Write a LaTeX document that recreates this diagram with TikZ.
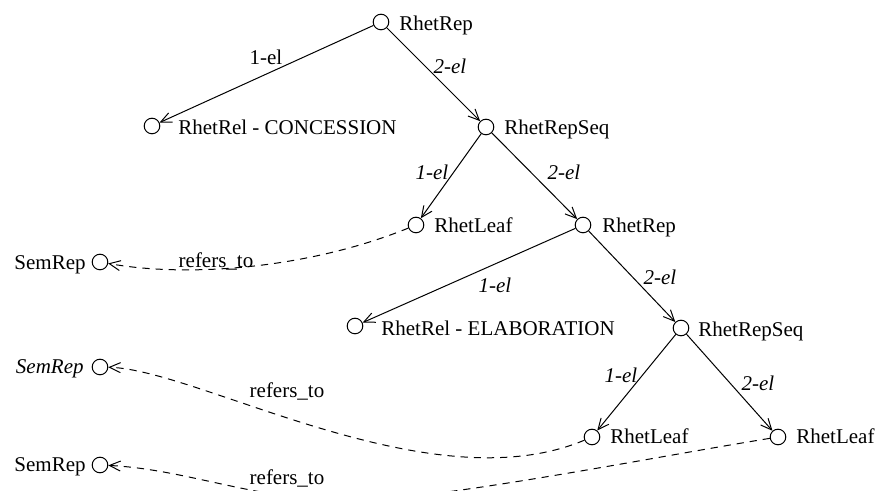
\documentclass[tikz,border=0pt]{standalone}
\usepackage{fontspec}
\setmainfont{Liberation Serif}
\usetikzlibrary{arrows.meta}
\tikzset{
  px/.style={x=0.5pt,y=-0.5pt},
  knot/.style={circle,draw,line width=0.5pt,minimum size=7.8pt,inner sep=0pt},
  tname/.style={font=\fontsize{10.5}{12}\selectfont,inner sep=0pt,anchor=base west},
  tlname/.style={tname,anchor=base east},
  elbl/.style={font=\fontsize{10.5}{12}\selectfont\itshape,inner sep=0pt,anchor=base},
  elblup/.style={elbl,font=\fontsize{10.5}{12}\selectfont},
  elink/.style={line width=0.5pt,-{Straight Barb[length=5.5pt,width=5pt,line width=0.5pt]}},
  reflink/.style={line width=0.5pt,dash pattern=on 3.6pt off 3pt,
    -{Straight Barb[length=5.5pt,width=5pt,line width=0.5pt]}},
}
\begin{document}
\begin{tikzpicture}[px]
\useasboundingbox (0,0) rectangle (875,491);

% tree nodes
\node[knot] (root)  at (381,22)  {};
\node[knot] (conc)  at (152,126) {};
\node[knot] (seqa)  at (486,127) {};
\node[knot] (leafa) at (416,225) {};
\node[knot] (repb)  at (583,225) {};
\node[knot] (elab)  at (355,326) {};
\node[knot] (seqb)  at (681,328) {};
\node[knot] (leafb) at (592,437) {};
\node[knot] (leafc) at (778,437) {};
% semantic representations
\node[knot] (sema) at (100,262) {};
\node[knot] (semb) at (100,367) {};
\node[knot] (semc) at (100,465) {};

% names
\node[tname] (root-t)  at (399,31)  {RhetRep};
\node[tname] (conc-t)  at (178,135) {RhetRel - CONCESSION};
\node[tname] (seqa-t)  at (504,135) {RhetRepSeq};
\node[tname] (leafa-t) at (434,233) {RhetLeaf};
\node[tname] (repb-t)  at (602,233) {RhetRep};
\node[tname] (elab-t)  at (381,336) {RhetRel - ELABORATION};
\node[tname] (seqb-t)  at (698,337) {RhetRepSeq};
\node[tname] (leafb-t) at (610,444) {RhetLeaf};
\node[tname] (leafc-t) at (796,444) {RhetLeaf};
\node[tlname] (sema-t) at (86,270) {SemRep};
\node[tlname,font=\fontsize{10.5}{12}\selectfont\itshape] (semb-t) at (84,374) {SemRep};
\node[tlname] (semc-t) at (86,472) {SemRep};

% element edges
\draw[elink] (root) -- (conc)  node[elblup,at={(266,65)}] {1-el};
\draw[elink] (root) -- (seqa)  node[elbl,at={(450,74)}] {2-el};
\draw[elink] (seqa) -- (leafa) node[elbl,at={(432,180)}] {1-el};
\draw[elink] (seqa) -- (repb)  node[elbl,at={(564,180)}] {2-el};
\draw[elink] (repb) -- (elab)  node[elbl,at={(495,293)}] {1-el};
\draw[elink] (repb) -- (seqb)  node[elbl,at={(660,285)}] {2-el};
\draw[elink] (seqb) -- (leafb) node[elbl,at={(621,383)}] {1-el};
\draw[elink] (seqb) -- (leafc) node[elbl,at={(758,391)}] {2-el};

% reference links
\draw[reflink] (leafa) .. controls (310,268) and (190,278) .. (sema)
  node[elblup,at={(216,268)}] {refers\_to};
\draw[reflink] (leafb) .. controls (430,505) and (200,370) .. (semb)
  node[elblup,at={(287,398)}] {refers\_to};
\draw[reflink] (leafc) .. controls (650,458) and (520,484) .. (400,498)
  .. controls (280,512) and (200,470) .. (semc)
  node[elblup,at={(287,485)}] {refers\_to};
\end{tikzpicture}
\end{document}
